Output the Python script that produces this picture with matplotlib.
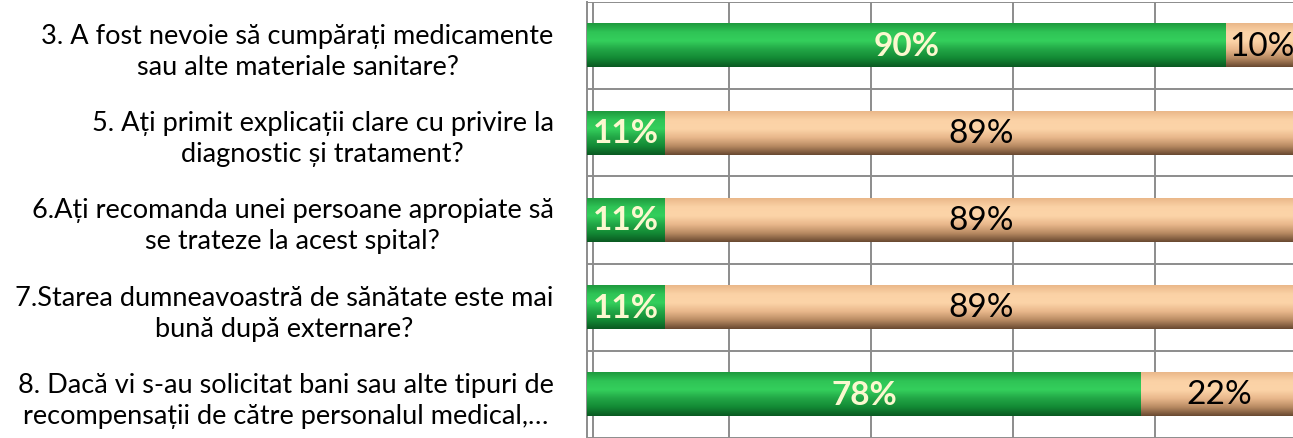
import matplotlib.pyplot as plt
import numpy as np
from matplotlib.colors import LinearSegmentedColormap

questions = [
    '3. A fost nevoie să cumpărați medicamente\nsau alte materiale sanitare?',
    '5. Ați primit explicații clare cu privire la\ndiagnostic și tratament?',
    '6.Ați recomanda unei persoane apropiate să\nse trateze la acest spital?',
    '7.Starea dumneavoastră de sănătate este mai\nbună după externare?',
    '8. Dacă vi s-au solicitat bani sau alte tipuri de\nrecompensații de către personalul medical,…',
]
green_vals = [90, 11, 11, 11, 78]
tan_vals = [10, 89, 89, 89, 22]

plt.rcParams['font.family'] = ['Lato', 'DejaVu Sans']

# cylinder shading, top -> bottom
green_cmap = LinearSegmentedColormap.from_list(
    'g', ['#1e9a3e', '#2fc456', '#34cf5c', '#22a646', '#138a35', '#0a5a22'])
tan_cmap = LinearSegmentedColormap.from_list(
    't', ['#eab88a', '#fbd2a6', '#fcd4a8', '#e9b88c', '#b98b63', '#6a4a31'])
shade = np.linspace(0, 1, 64).reshape(-1, 1)

BAR_H = 0.5


def draw_segment(ax, left, width, y, cmap):
    ax.imshow(shade, cmap=cmap, aspect='auto', interpolation='bilinear',
              extent=[left, left + width, y + BAR_H / 2, y - BAR_H / 2], zorder=3)


def main():
    fig = plt.figure(figsize=(12.93, 4.39), dpi=100)
    ax = fig.add_axes([587 / 1293, 0.0, 1 - 587 / 1293, 1 - 3 / 439])
    ys = np.arange(len(questions))

    for y, g, t in zip(ys, green_vals, tan_vals):
        draw_segment(ax, 0, g, y, green_cmap)
        draw_segment(ax, g, t, y, tan_cmap)
        ax.text(g / 2, y, f'{g}%', ha='center', va='center', fontsize=24,
                fontweight='bold', color='#fbf8cf', zorder=5)
        ax.text(g + t / 2, y, f'{t}%', ha='center', va='center', fontsize=24,
                color='black', zorder=5)

    ax.set_xlim(0, 99.4)
    ax.set_ylim(len(questions) - 0.5, -0.5)
    ax.set_xticks([20, 40, 60, 80])
    ax.set_xticklabels([])
    ax.set_yticks(ys)
    ax.set_yticklabels(questions, fontsize=19.5, ha='right',
                       multialignment='center', linespacing=1.3)
    ax.set_yticks(np.arange(len(questions) + 1) - 0.5, minor=True)
    ax.tick_params(axis='both', which='both', length=0, pad=24)
    ax.grid(True, axis='x', which='major', color='#8c8c8c', lw=1.4, zorder=1)
    ax.grid(True, axis='y', which='minor', color='#8c8c8c', lw=1.4, zorder=1)
    # back wall edge of the 3d box
    ax.axvline(0.9, color='#8c8c8c', lw=1.4, zorder=1)
    for side in ['top', 'right', 'bottom']:
        ax.spines[side].set_visible(False)
    ax.spines['left'].set_color('#8c8c8c')
    ax.spines['left'].set_linewidth(1.4)

    fig.savefig('out.png', dpi=100)


if __name__ == '__main__':
    main()
